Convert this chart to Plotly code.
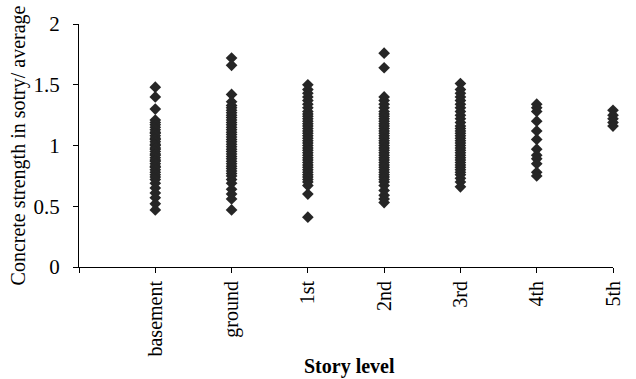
import plotly.graph_objects as go

stories = ["basement", "ground", "1st", "2nd", "3rd", "4th", "5th"]

basement = [1.48, 1.40, 1.30, 1.21, 1.19, 1.17, 1.15, 1.13, 1.11, 1.10, 1.08, 1.06, 1.05,
            1.03, 1.01, 1.00, 0.98, 0.97, 0.95, 0.93, 0.92, 0.90, 0.88, 0.87, 0.85, 0.83,
            0.82, 0.80, 0.78, 0.76, 0.74, 0.72, 0.69, 0.65, 0.61, 0.57, 0.52, 0.47]
ground = [1.72, 1.66, 1.42, 1.36, 1.33, 1.31, 1.29, 1.27, 1.25, 1.23, 1.21, 1.19, 1.17,
          1.15, 1.13, 1.11, 1.09, 1.07, 1.05, 1.03, 1.01, 0.99, 0.97, 0.95, 0.93, 0.91,
          0.89, 0.87, 0.85, 0.83, 0.81, 0.79, 0.77, 0.75, 0.72, 0.69, 0.64, 0.60, 0.56, 0.47]
first = [1.50, 1.46, 1.43, 1.40, 1.37, 1.34, 1.31, 1.28, 1.26, 1.24, 1.22, 1.20, 1.18,
         1.16, 1.14, 1.12, 1.10, 1.08, 1.06, 1.04, 1.02, 1.00, 0.98, 0.96, 0.94, 0.92,
         0.90, 0.88, 0.86, 0.84, 0.82, 0.80, 0.78, 0.76, 0.74, 0.72, 0.70, 0.67, 0.60, 0.41]
second = [1.76, 1.64, 1.40, 1.37, 1.34, 1.31, 1.28, 1.26, 1.24, 1.22, 1.20, 1.18, 1.16,
          1.14, 1.12, 1.10, 1.08, 1.06, 1.04, 1.02, 1.00, 0.98, 0.96, 0.94, 0.92, 0.90,
          0.88, 0.86, 0.84, 0.82, 0.80, 0.78, 0.76, 0.74, 0.72, 0.70, 0.67, 0.63, 0.59,
          0.56, 0.53]
third = [1.51, 1.46, 1.43, 1.40, 1.37, 1.34, 1.31, 1.28, 1.25, 1.22, 1.19, 1.16, 1.14,
         1.12, 1.10, 1.08, 1.06, 1.04, 1.02, 1.00, 0.98, 0.96, 0.94, 0.92, 0.90, 0.88,
         0.86, 0.84, 0.82, 0.80, 0.78, 0.76, 0.73, 0.70, 0.66]
fourth = [1.34, 1.31, 1.28, 1.20, 1.12, 1.05, 0.97, 0.92, 0.89, 0.85, 0.78, 0.75]
fifth = [1.29, 1.25, 1.22, 1.19, 1.16]

series = [basement, ground, first, second, third, fourth, fifth]

xs, ys = [], []
for i, vals in enumerate(series):
    xs += [i + 1] * len(vals)
    ys += vals

font_family = "Liberation Serif, Times New Roman, serif"

fig = go.Figure()
fig.add_trace(go.Scatter(
    x=xs, y=ys, mode="markers", cliponaxis=False,
    marker=dict(symbol="diamond", size=9, color="#262626", line=dict(width=0)),
    showlegend=False, hoverinfo="skip"
))

fig.update_layout(
    width=636, height=379,
    margin=dict(l=79, r=20, t=16, b=112),
    paper_bgcolor="white", plot_bgcolor="white",
    font=dict(family=font_family, color="black", size=20),
    xaxis=dict(
        range=[0, 7], tickmode="array",
        tickvals=list(range(0, 8)), ticktext=[""] + stories,
        tickangle=-90, ticks="outside", ticklen=5, tickwidth=1, tickcolor="black",
        showline=True, linecolor="black", linewidth=1, showgrid=False, zeroline=False,
        tickfont=dict(size=20, family=font_family),
    ),
    yaxis=dict(
        range=[0, 2], tickmode="array", tickvals=[0, 0.5, 1, 1.5, 2],
        ticktext=["0", "0.5", "1", "1.5", "2"],
        ticks="outside", ticklen=5, tickwidth=1, tickcolor="black",
        ticklabelstandoff=9,
        showline=True, linecolor="black", linewidth=1, showgrid=False, zeroline=False,
        tickfont=dict(size=21, family=font_family),
        title=dict(text="Concrete strength in sotry/ average",
                   font=dict(size=20, family=font_family), standoff=2),
    ),
    annotations=[dict(
        text="<b>Story level</b>", xref="paper", yref="paper",
        x=0.5, y=0, yshift=-99, xshift=3, xanchor="center", yanchor="middle",
        showarrow=False, font=dict(size=20, family=font_family),
    )],
)

fig.write_html("out.html")
